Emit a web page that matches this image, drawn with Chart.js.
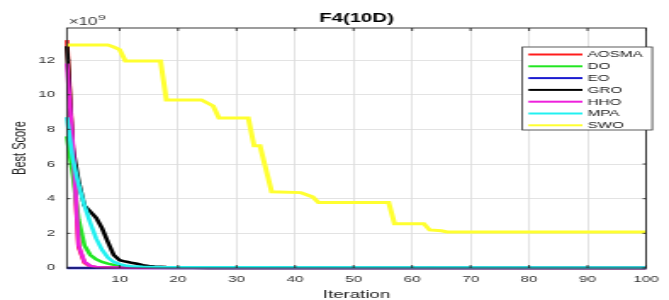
<!DOCTYPE html>
<html>
<head>
<meta charset="utf-8">
<script src="https://cdn.jsdelivr.net/npm/chart.js@4.4.1/dist/chart.umd.min.js"></script>
<style>
  html, body { margin: 0; padding: 0; background: #ffffff; }
</style>
</head>
<body>
<!-- the reference figure is stretched sideways, so the canvas is drawn narrow and widened by CSS -->
<canvas id="myChart" width="394" height="300" style="width:669px;height:300px;display:block;"></canvas>
<script>
//////////////////// Data (Best Score, x 1e9) ////////////////////
const seriesNames = ['AOSMA', 'DO', 'EO', 'GRO', 'HHO', 'MPA', 'SWO'];
const seriesColors = ['#ff1c1c', '#22e622', '#1a1ad0', '#000000', '#ee20dc', '#22f0f0', '#ffff30'];

const xTickValues = [10, 20, 30, 40, 50, 60, 70, 80, 90, 100];
const yTickValues = [0, 2, 4, 6, 8, 10, 12];

const aosmaIter  = [1, 2, 3, 4, 5, 6, 100];
const aosmaScore = [13.15, 7.0, 1.2, 0.3, 0.1, 0.04, 0];

const doIter  = [1, 2, 3, 4, 5, 6, 7, 8, 9, 10, 12, 15, 20, 100];
const doScore = [7.6, 5.4, 2.8, 1.3, 0.75, 0.5, 0.35, 0.25, 0.18, 0.12, 0.06, 0.02, 0, 0];

const eoIter  = [1, 100];
const eoScore = [0, 0];

const groIter  = [1, 2, 3, 4, 5, 6, 7, 8, 9, 10, 11, 12, 13, 14, 15, 16, 17, 18, 20, 25, 30, 100];
const groScore = [12.8, 6.9, 5.0, 3.6, 3.25, 2.9, 2.3, 1.5, 0.75, 0.45, 0.37, 0.3, 0.24, 0.16, 0.12, 0.09, 0.07, 0.05, 0.03, 0.01, 0, 0];

const hhoIter  = [1, 2, 3, 4, 5, 6, 7, 8, 10, 15, 100];
const hhoScore = [11.8, 7.2, 1.3, 0.35, 0.12, 0.06, 0.04, 0.03, 0.02, 0, 0];

const mpaIter  = [1, 2, 3, 4, 5, 6, 7, 8, 9, 10, 11, 12, 14, 17, 25, 100];
const mpaScore = [8.7, 6.3, 4.8, 3.6, 2.6, 1.7, 1.05, 0.6, 0.35, 0.22, 0.15, 0.1, 0.07, 0.05, 0.04, 0.03];

const swoIter  = [1, 8, 9, 10, 11, 17, 18, 24, 26, 27, 32, 33, 34, 36, 41, 43, 44, 56, 57, 62, 63, 65, 66, 100];
const swoScore = [12.87, 12.87, 12.75, 12.6, 11.95, 11.95, 9.7, 9.7, 9.35, 8.65, 8.65, 7.05, 7.05, 4.4, 4.35, 4.1, 3.78, 3.78, 2.56, 2.56, 2.2, 2.15, 2.08, 2.08];

const seriesIter  = [aosmaIter, doIter, eoIter, groIter, hhoIter, mpaIter, swoIter];
const seriesScore = [aosmaScore, doScore, eoScore, groScore, hhoScore, mpaScore, swoScore];
///////////////////////////////////////////////////////////////

const fontFamily = "'Liberation Sans', Arial, Helvetica, sans-serif";
Chart.defaults.font.family = fontFamily;

///////////// Datasets (later series drawn on top, like MATLAB) /////////////
const datasets = seriesNames.map((name, i) => ({
    label: name,
    data: seriesIter[i].map((it, k) => ({ x: it, y: seriesScore[i][k] })),
    borderColor: seriesColors[i],
    backgroundColor: seriesColors[i],
    borderWidth: name === 'SWO' ? 3 : 2.6,
    pointRadius: 0,
    tension: 0,
    fill: false,
    clip: 4,
    order: seriesNames.length - i
}));

///////////// Box, inner ticks, title, exponent, legend /////////////
const matlabDecor = {
    id: 'matlabDecor',
    afterDraw(chart) {
        const { ctx, chartArea: { left, right, top, bottom }, scales: { x, y } } = chart;
        ctx.save();

        // axes box
        ctx.strokeStyle = '#262626';
        ctx.lineWidth = 0.9;
        ctx.strokeRect(left, top, right - left, bottom - top);

        // inner tick marks on all four sides
        ctx.beginPath();
        xTickValues.forEach(v => {
            const px = x.getPixelForValue(v);
            ctx.moveTo(px, bottom); ctx.lineTo(px, bottom - 3);
            ctx.moveTo(px, top); ctx.lineTo(px, top + 3);
        });
        yTickValues.forEach(v => {
            const py = y.getPixelForValue(v);
            ctx.moveTo(left, py); ctx.lineTo(left + 2, py);
            ctx.moveTo(right, py); ctx.lineTo(right - 2, py);
        });
        ctx.stroke();

        // title
        ctx.fillStyle = '#000000';
        ctx.font = 'bold 12px ' + fontFamily;
        ctx.textAlign = 'center';
        ctx.textBaseline = 'middle';
        ctx.fillText('F4(10D)', (left + right) / 2, 19);

        // x 10^9 exponent
        ctx.fillStyle = '#333333';
        ctx.textAlign = 'left';
        ctx.textBaseline = 'alphabetic';
        ctx.font = '10px ' + fontFamily;
        ctx.fillText('\u00d710', left + 1, 25);
        const w = ctx.measureText('\u00d710').width;
        ctx.font = '8px ' + fontFamily;
        ctx.fillText('9', left + 1 + w + 0.5, 20);

        // legend
        const lx = 307.6, ly = 47, lw = 76.5, lh = 83;
        ctx.fillStyle = '#ffffff';
        ctx.fillRect(lx, ly, lw, lh);
        ctx.strokeStyle = '#333333';
        ctx.lineWidth = 0.8;
        ctx.strokeRect(lx, ly, lw, lh);
        ctx.font = '9px ' + fontFamily;
        ctx.textBaseline = 'middle';
        seriesNames.forEach((name, i) => {
            const ry = ly + 7.5 + i * 11.8;
            ctx.beginPath();
            ctx.strokeStyle = seriesColors[i];
            ctx.lineWidth = 2;
            ctx.moveTo(lx + 3.6, ry);
            ctx.lineTo(lx + 35.4, ry);
            ctx.stroke();
            ctx.fillStyle = '#222222';
            ctx.fillText(name, lx + 38.3, ry + 0.5);
        });
        ctx.restore();
    }
};

///////////// Config /////////////
const config = {
    type: 'line',
    data: { datasets: datasets },
    options: {
        responsive: false,
        animation: false,
        devicePixelRatio: 1,
        layout: { padding: { top: 28, right: 5.8, left: 0, bottom: 0 } },
        plugins: {
            legend: { display: false },
            title: { display: false },
            tooltip: { enabled: false }
        },
        scales: {
            x: {
                type: 'linear',
                min: 1,
                max: 100,
                afterBuildTicks(scale) { scale.ticks = xTickValues.map(v => ({ value: v })); },
                afterFit(scale) { scale.height = 32; },
                grid: { color: '#dcdcdc', lineWidth: 0.8, drawTicks: false },
                border: { display: false },
                ticks: { color: '#333333', font: { size: 9 }, padding: 6, maxRotation: 0 },
                title: {
                    display: true,
                    text: 'Iteration',
                    color: '#222222',
                    font: { size: 11, lineHeight: 1 },
                    padding: { top: 0, bottom: 0 }
                }
            },
            y: {
                type: 'linear',
                min: 0,
                max: 13.85,
                afterBuildTicks(scale) { scale.ticks = yTickValues.map(v => ({ value: v })); },
                afterFit(scale) { scale.width = 39.4; },
                grid: { color: '#dcdcdc', lineWidth: 0.8, drawTicks: false },
                border: { display: false },
                ticks: { color: '#333333', font: { size: 9 }, padding: 7 },
                title: {
                    display: true,
                    text: 'Best Score',
                    color: '#222222',
                    font: { size: 11, lineHeight: 1 },
                    padding: { top: 6, bottom: 0 }
                }
            }
        }
    },
    plugins: [matlabDecor]
};

const chart1 = document.getElementById('myChart').getContext('2d');
const myChart = new Chart(chart1, config);
</script>
</body>
</html>
